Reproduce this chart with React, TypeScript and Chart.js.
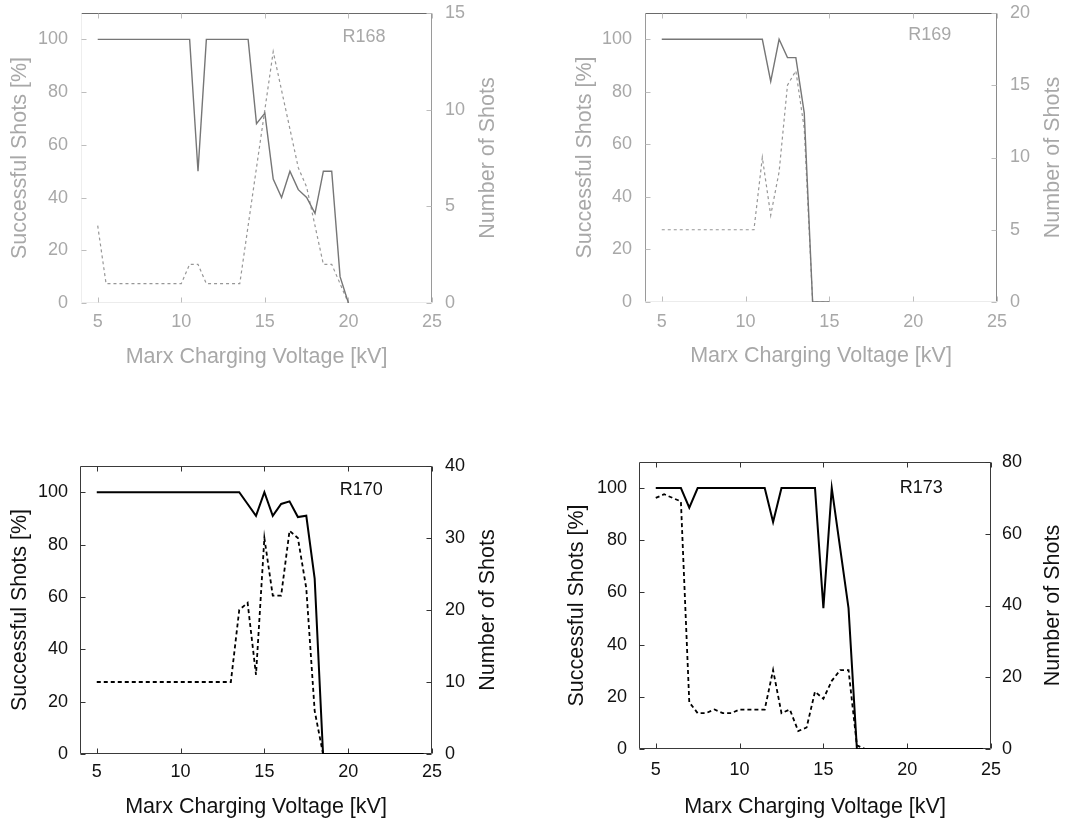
import React, { useEffect, useRef } from 'react';
import { Chart, registerables } from 'chart.js';

Chart.register(...registerables);
Chart.defaults.font.family = "'Liberation Sans', Arial, sans-serif";

// ---------- shared ticks ----------
const voltageTicks = [5, 10, 15, 20, 25];
const successTicks = [0, 20, 40, 60, 80, 100];

// ---------- R168 ----------
const r168Voltage = [5, 5.5, 6, 6.5, 7, 7.5, 8, 8.5, 9, 9.5, 10, 10.5, 11, 11.5, 12, 12.5, 13, 13.5, 14, 14.5, 15, 15.5, 16, 16.5, 17, 17.5, 18, 18.5, 19, 19.5, 20];
const r168Success = [100, 100, 100, 100, 100, 100, 100, 100, 100, 100, 100, 100, 50, 100, 100, 100, 100, 100, 100, 68, 72, 47, 40, 50, 43, 40, 34, 50, 50, 10, 0];
const r168Shots = [4, 1, 1, 1, 1, 1, 1, 1, 1, 1, 1, 2, 2, 1, 1, 1, 1, 1, 4, 7, 10, 13, 11, 9, 7, 6, 4, 2, 2, 1, 0];
const r168ShotTicks = [0, 5, 10, 15];

// ---------- R169 ----------
const r169Voltage = [5, 5.5, 6, 6.5, 7, 7.5, 8, 8.5, 9, 9.5, 10, 10.5, 11, 11.5, 12, 12.5, 13, 13.5, 14, 14.5, 15];
const r169Success = [100, 100, 100, 100, 100, 100, 100, 100, 100, 100, 100, 100, 100, 84, 100, 93, 93, 72, 0, 0, 0];
const r169Shots = [5, 5, 5, 5, 5, 5, 5, 5, 5, 5, 5, 5, 10, 6, 9, 15, 16, 12, 0, 0, 0];
const r169ShotTicks = [0, 5, 10, 15, 20];

// ---------- R170 ----------
const r170Voltage = [5, 5.5, 6, 6.5, 7, 7.5, 8, 8.5, 9, 9.5, 10, 10.5, 11, 11.5, 12, 12.5, 13, 13.5, 14, 14.5, 15, 15.5, 16, 16.5, 17, 17.5, 18, 18.5, 19, 19.5, 20, 20.5, 21, 21.5, 22, 22.5, 23, 23.5, 24, 24.5];
const r170Success = [100, 100, 100, 100, 100, 100, 100, 100, 100, 100, 100, 100, 100, 100, 100, 100, 100, 100, 95.5, 91, 100, 91, 95.5, 96.5, 90.5, 91, 67, 0, 0, 0, 0, 0, 0, 0, 0, 0, 0, 0, 0, 0];
const r170Shots = [10, 10, 10, 10, 10, 10, 10, 10, 10, 10, 10, 10, 10, 10, 10, 10, 10, 20, 21, 11, 30, 22, 22, 31, 30, 23, 6, 0, 0, 0, 0, 0, 0, 0, 0, 0, 0, 0, 0, 0];
const r170ShotTicks = [0, 10, 20, 30, 40];

// ---------- R173 ----------
const r173Voltage = [5, 5.5, 6, 6.5, 7, 7.5, 8, 8.5, 9, 9.5, 10, 10.5, 11, 11.5, 12, 12.5, 13, 13.5, 14, 14.5, 15, 15.5, 16, 16.5, 17, 17.5, 18, 18.5, 19, 19.5, 20, 20.5, 21, 21.5, 22, 22.5, 23, 23.5, 24, 24.5];
const r173Success = [100, 100, 100, 100, 92.5, 100, 100, 100, 100, 100, 100, 100, 100, 100, 87, 100, 100, 100, 100, 100, 54, 100, 77, 54, 0, 0, 0, 0, 0, 0, 0, 0, 0, 0, 0, 0, 0, 0, 0, 0];
const r173Shots = [70, 71, 70, 69, 13, 10, 10, 11, 10, 10, 11, 11, 11, 11, 22, 10, 11, 5, 6, 16, 14, 19, 22, 22, 1, 0, 0, 0, 0, 0, 0, 0, 0, 0, 0, 0, 0, 0, 0, 0];
const r173ShotTicks = [0, 20, 40, 60, 80];

const xTitle = 'Marx Charging Voltage [kV]';
const leftTitle = 'Successful Shots [%]';
const rightTitle = 'Number of Shots';

type Borders = { top: string; right: string; bottom: string; left: string };

type PanelProps = {
  pageLeft: number; pageTop: number; width: number; height: number;
  areaLeft: number; areaRight: number; areaTop: number; areaBottom: number;
  voltage: number[]; success: number[]; shots: number[];
  shotMax: number; shotTicks: number[];
  runLabel: string; labelVoltage: number; labelSuccess: number;
  leftTitlePad: number; bottomTitlePad: number; rightTitleX: number;
  leftTickPad: number; rightTickPad: number; xTickPad: number;
  textColor: string; solidColor: string; dashColor: string; tickColor: string;
  borders: Borders; solidWidth: number; dashWidth: number; dash: number[];
};

const FAMILY = "'Liberation Sans', Arial, sans-serif";
const TICK_SIZE = 18;
const TITLE_SIZE = 21.5;
const LABEL_SIZE = 18;

function Panel(p: PanelProps) {
  const ref = useRef<HTMLCanvasElement | null>(null);
  useEffect(() => {
    const canvas = ref.current;
    if (!canvas) return;
    const framePlugin = {
      id: 'frame' + p.runLabel,
      beforeDatasetsDraw(chart: any) {
        const { ctx, chartArea: a, scales } = chart;
        ctx.save();
        ctx.lineWidth = 1;
        const seg = (x1: number, y1: number, x2: number, y2: number, color: string) => {
          ctx.strokeStyle = color;
          ctx.beginPath();
          ctx.moveTo(x1, y1);
          ctx.lineTo(x2, y2);
          ctx.stroke();
        };
        const L = Math.round(a.left) + 0.5, R = Math.round(a.right) - 0.5;
        const T = Math.round(a.top) + 0.5, B = Math.round(a.bottom) - 0.5;
        seg(L, T, R, T, p.borders.top);
        seg(R, T, R, B, p.borders.right);
        seg(L, B, R, B, p.borders.bottom);
        seg(L, T, L, B, p.borders.left);
        const tl = 5;
        scales.x.ticks.forEach((t: any) => {
          const x = Math.round(scales.x.getPixelForValue(t.value)) + 0.5;
          seg(x, B, x, B - tl, p.tickColor);
          seg(x, T, x, T + tl, p.tickColor);
        });
        scales.y.ticks.forEach((t: any) => {
          const y = Math.round(scales.y.getPixelForValue(t.value)) + 0.5;
          seg(L, y, L + tl, y, p.tickColor);
        });
        scales.y1.ticks.forEach((t: any) => {
          const y = Math.round(scales.y1.getPixelForValue(t.value)) + 0.5;
          seg(R, y, R - tl, y, p.tickColor);
        });
        ctx.restore();
      },
      afterDatasetsDraw(chart: any) {
        const { ctx, chartArea: a, scales } = chart;
        ctx.save();
        ctx.fillStyle = p.textColor;
        ctx.font = `${LABEL_SIZE}px ${FAMILY}`;
        ctx.textBaseline = 'middle';
        ctx.textAlign = 'left';
        ctx.fillText(p.runLabel, scales.x.getPixelForValue(p.labelVoltage), scales.y.getPixelForValue(p.labelSuccess));
        ctx.font = `${TITLE_SIZE}px ${FAMILY}`;
        ctx.translate(p.rightTitleX, (a.top + a.bottom) / 2);
        ctx.rotate(-Math.PI / 2);
        ctx.textAlign = 'center';
        ctx.fillText(rightTitle, 0, 0);
        ctx.restore();
      },
    };

    const successPts = p.voltage.map((v, i) => ({ x: v, y: p.success[i] }));
    const shotPts = p.voltage.map((v, i) => ({ x: v, y: p.shots[i] }));
    const tickFont = { size: TICK_SIZE };
    const titleFont = { size: TITLE_SIZE };

    const chart = new Chart(canvas, {
      type: 'line',
      data: {
        datasets: [
          {
            data: successPts, yAxisID: 'y', borderColor: p.solidColor, borderWidth: p.solidWidth,
            pointRadius: 0, fill: false, tension: 0, order: 0,
          },
          {
            data: shotPts, yAxisID: 'y1', borderColor: p.dashColor, borderWidth: p.dashWidth,
            borderDash: p.dash, pointRadius: 0, fill: false, tension: 0, order: 1,
          },
        ],
      } as any,
      options: {
        responsive: false,
        animation: false,
        events: [],
        layout: { padding: { top: p.areaTop, left: 0, right: 0, bottom: 0 } },
        plugins: { legend: { display: false }, tooltip: { enabled: false } },
        scales: {
          x: {
            type: 'linear', position: 'bottom', min: 4, max: 25,
            grid: { display: false, drawTicks: false }, border: { display: false },
            ticks: { padding: p.xTickPad, color: p.textColor, font: tickFont, autoSkip: false, maxRotation: 0 },
            title: { display: true, text: xTitle, color: p.textColor, font: titleFont, padding: { top: 0, bottom: p.bottomTitlePad } },
            afterBuildTicks: (s: any) => { s.ticks = voltageTicks.map((v) => ({ value: v })); },
            afterFit: (s: any) => { s.height = p.height - p.areaBottom; s.paddingLeft = 0; s.paddingRight = 0; },
          },
          y: {
            type: 'linear', position: 'left', min: 0, max: 110,
            grid: { display: false, drawTicks: false }, border: { display: false },
            ticks: { padding: p.leftTickPad, color: p.textColor, font: tickFont, autoSkip: false },
            title: { display: true, text: leftTitle, color: p.textColor, font: titleFont, padding: { top: p.leftTitlePad, bottom: 0 } },
            afterBuildTicks: (s: any) => { s.ticks = successTicks.map((v) => ({ value: v })); },
            afterFit: (s: any) => { s.width = p.areaLeft; s.paddingTop = 0; s.paddingBottom = 0; },
          },
          y1: {
            type: 'linear', position: 'right', min: 0, max: p.shotMax,
            grid: { display: false, drawTicks: false }, border: { display: false },
            ticks: { padding: p.rightTickPad, color: p.textColor, font: tickFont, autoSkip: false },
            title: { display: false },
            afterBuildTicks: (s: any) => { s.ticks = p.shotTicks.map((v) => ({ value: v })); },
            afterFit: (s: any) => { s.width = p.width - p.areaRight; s.paddingTop = 0; s.paddingBottom = 0; },
          },
        },
      } as any,
      plugins: [framePlugin],
    });
    return () => chart.destroy();
  }, []);

  return (
    <canvas
      ref={ref}
      width={p.width}
      height={p.height}
      style={{ position: 'absolute', left: p.pageLeft, top: p.pageTop, width: p.width, height: p.height }}
    />
  );
}

const faded = {
  textColor: '#a8a8a8', solidColor: '#767676', dashColor: '#979797', tickColor: '#bdbdbd',
  solidWidth: 1.4, dashWidth: 1.2, dash: [3, 3],
};
const dark = {
  textColor: '#111111', solidColor: '#000000', dashColor: '#000000', tickColor: '#333333',
  solidWidth: 2, dashWidth: 1.8, dash: [4, 3],
  borders: { top: '#3a3a3a', right: '#3a3a3a', bottom: '#3a3a3a', left: '#3a3a3a' },
};

export default function App() {
  return (
    <div style={{ position: 'absolute', left: 0, top: 0, width: 1091, height: 821, background: '#ffffff' }}>
      <Panel
        {...faded}
        borders={{ top: '#6a6a6a', right: '#9a9a9a', bottom: '#ececec', left: '#eeeeee' }}
        pageLeft={0} pageTop={0} width={545} height={400}
        areaLeft={81} areaRight={432} areaTop={13} areaBottom={303}
        voltage={r168Voltage} success={r168Success} shots={r168Shots}
        shotMax={15} shotTicks={r168ShotTicks}
        runLabel="R168" labelVoltage={19.65} labelSuccess={100.9}
        leftTitlePad={7} bottomTitlePad={30} rightTitleX={488}
        leftTickPad={13} rightTickPad={13} xTickPad={8}
      />
      <Panel
        {...faded}
        borders={{ top: '#6a6a6a', right: '#8a8a8a', bottom: '#ececec', left: '#9a9a9a' }}
        pageLeft={545} pageTop={0} width={546} height={400}
        areaLeft={100} areaRight={452} areaTop={13} areaBottom={302}
        voltage={r169Voltage} success={r169Success} shots={r169Shots}
        shotMax={20} shotTicks={r169ShotTicks}
        runLabel="R169" labelVoltage={19.7} labelSuccess={101.5}
        leftTitlePad={27} bottomTitlePad={31} rightTitleX={508}
        leftTickPad={13} rightTickPad={13} xTickPad={9}
      />
      <Panel
        {...dark}
        pageLeft={0} pageTop={420} width={545} height={401}
        areaLeft={80} areaRight={432} areaTop={46} areaBottom={334}
        voltage={r170Voltage} success={r170Success} shots={r170Shots}
        shotMax={40} shotTicks={r170ShotTicks}
        runLabel="R170" labelVoltage={19.5} labelSuccess={100.7}
        leftTitlePad={7} bottomTitlePad={1.5} rightTitleX={488}
        leftTickPad={12} rightTickPad={13} xTickPad={7}
      />
      <Panel
        {...dark}
        pageLeft={545} pageTop={420} width={546} height={401}
        areaLeft={94} areaRight={446} areaTop={42} areaBottom={329}
        voltage={r173Voltage} success={r173Success} shots={r173Shots}
        shotMax={80} shotTicks={r173ShotTicks}
        runLabel="R173" labelVoltage={19.55} labelSuccess={100}
        leftTitlePad={19} bottomTitlePad={1.5} rightTitleX={508}
        leftTickPad={12} rightTickPad={11} xTickPad={10}
      />
    </div>
  );
}
